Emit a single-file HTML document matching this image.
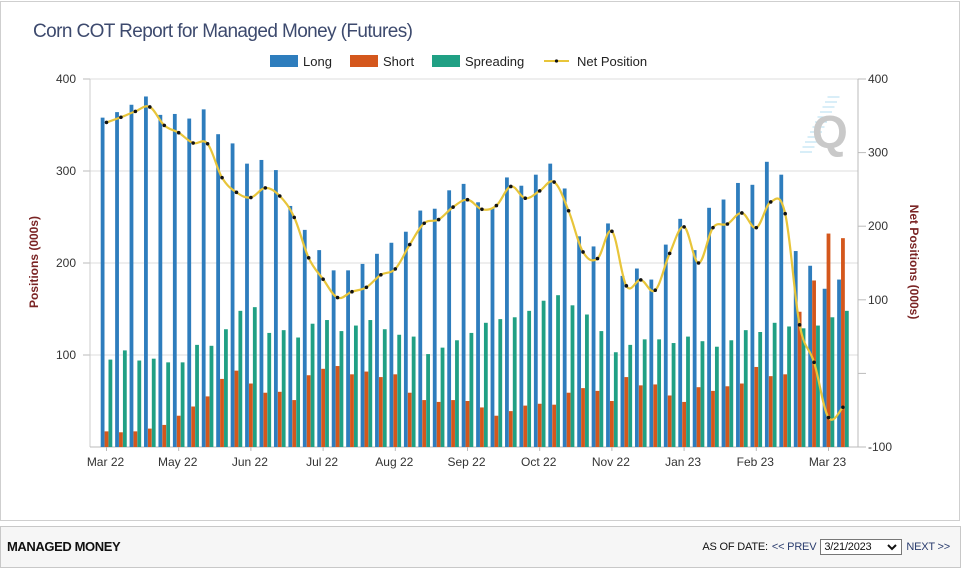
<!DOCTYPE html>
<html><head><meta charset="utf-8"><style>
body{margin:0;width:961px;height:568px;background:#fff;font-family:"Liberation Sans",sans-serif;overflow:hidden;position:relative}
#chartbox{position:absolute;left:0;top:1px;width:958px;height:518px;border:1px solid #cfcfcf;background:#fff}
#title{position:absolute;left:32px;top:19px;font-size:19px;color:#3d4a6e;letter-spacing:-0.6px}
#bottom{position:absolute;left:0;top:526px;width:959px;height:40px;border:1px solid #c8c8c8;background:#f6f6f6}
#mm{position:absolute;left:6px;top:12px;font-size:13px;font-weight:bold;letter-spacing:-0.4px;color:#111}
#asof{position:absolute;right:10px;top:12px;font-size:11px;color:#111;display:flex;align-items:center;gap:4px;letter-spacing:-0.2px}
#asof a{color:#2a3c6e;text-decoration:none}
#sel{border:1px solid #777;background:#fff;width:82px;height:16px;font-size:11px;padding-left:3px;display:flex;align-items:center;justify-content:space-between;box-sizing:border-box}
</style></head><body>
<div id="chartbox">
<div id="title">Corn COT Report for Managed Money (Futures)</div>
</div>
<svg id="svg" width="961" height="520" style="position:absolute;left:0;top:0"></svg>
<div id="bottom">
<div id="mm">MANAGED MONEY</div>
<div id="asof"><span>AS OF DATE:</span>
<a href="#">&lt;&lt; PREV</a>
<div id="sel"><span>3/21/2023</span><svg width="10" height="8" style="margin-right:4px"><path d="M1 2 L5 6 L9 2" fill="none" stroke="#111" stroke-width="2"/></svg></div>
<a href="#">NEXT &gt;&gt;</a></div>
</div>
<script>
const longVals=[358,364,372,381,361,362,357,367,340,330,308,312,301,262,236,214,192,192,199,210,222,234,257,259,279,286,266,260,293,284,296,308,281,229,218,243,186,194,182,220,248,214,260,269,287,285,310,296,213,197,172,182];
const shortVals=[17,16,17,20,24,34,44,55,74,83,69,59,60,51,78,85,88,79,82,76,79,59,51,49,51,50,43,34,39,45,47,46,59,64,61,50,76,67,68,56,49,65,61,66,69,87,77,79,147,181,232,227];
const spreadVals=[95,105,94,96,92,92,111,110,128,148,152,124,127,119,134,138,126,132,138,128,122,120,101,108,116,124,135,139,141,148,159,165,154,144,126,103,111,117,117,113,120,115,109,116,127,125,135,131,129,132,141,148];
const netVals=[341,348,356,362,337,327,313,312,266,246,239,252,241,212,157,128,103,111,117,134,142,175,204,209,226,236,223,228,254,238,248,260,221,165,156,193,119,127,113,163,199,150,198,203,218,198,233,217,66,15,-60,-46];
const xLabels=["Mar 22","May 22","Jun 22","Jul 22","Aug 22","Sep 22","Oct 22","Nov 22","Jan 23","Feb 23","Mar 23"];
const leftTicks=[100,200,300,400];
const rightTicks=[-100,0,100,200,300,400];
const rightTickLabels=["-100","","100","200","300","400"];

const svg=document.getElementById('svg');const NS='http://www.w3.org/2000/svg';
function mk(t,a,p){const e=document.createElementNS(NS,t);for(const k in a)e.setAttribute(k,a[k]);(p||svg).appendChild(e);return e;}
const X0=90,X1=858,Y0=447,YT=79;
const yL=v=>Y0-(v/400)*(Y0-YT);
const yR=v=>Y0-((v+100)/500)*(Y0-YT);
const xc=i=>106.5+i*14.44;
leftTicks.forEach(t=>{const g=mk('line',{x1:X0,x2:X1,y1:yL(t),y2:yL(t),stroke:'#dcdcdc','stroke-width':1});

mk('line',{x1:X0-7,x2:X0,y1:yL(t),y2:yL(t),stroke:'#bbb'});
const tx=mk('text',{x:X0-14,y:yL(t)+4,'text-anchor':'end','font-size':12,fill:'#333'});tx.textContent=t;
});
rightTicks.forEach((t,k)=>{mk('line',{x1:X1,x2:X1+8,y1:yR(t),y2:yR(t),stroke:'#bbb'});
const tx=mk('text',{x:X1+10,y:yR(t)+4,'font-size':12,fill:'#333'});tx.textContent=rightTickLabels[k];
});
mk('line',{x1:X0,x2:X0,y1:YT,y2:Y0,stroke:'#ccc'});
mk('line',{x1:X1,x2:X1,y1:YT,y2:Y0,stroke:'#bbb'});
mk('line',{x1:X0,x2:X1,y1:Y0,y2:Y0,stroke:'#bbb'});
const wm=mk('g',{});
for(let k=0;k<12;k++){mk('line',{x1:800+k*2.5,x2:812+k*2.5,y1:152-k*5,y2:152-k*5,stroke:'#bfe3f2','stroke-width':1.2},wm);}
const q=mk('text',{x:812,y:148,'font-size':46,'font-weight':'bold',fill:'#c9c9c9'},wm);q.textContent='Q';
const W=3.8;
longVals.forEach((v,i)=>{const r=mk('rect',{x:xc(i)-5.8,y:yL(v),width:W,height:Y0-yL(v),fill:'#2e7dbd'});
});
shortVals.forEach((v,i)=>{const r=mk('rect',{x:xc(i)-1.9,y:yL(v),width:W,height:Y0-yL(v),fill:'#d4571c'});
});
spreadVals.forEach((v,i)=>{const r=mk('rect',{x:xc(i)+2,y:yL(v),width:W,height:Y0-yL(v),fill:'#20a084'});
});
const pts=netVals.map((v,i)=>[xc(i),yR(v)]);
let d='M'+pts[0][0]+','+pts[0][1];const tn=0.18;
for(let i=1;i<pts.length;i++){const pm=pts[Math.max(i-2,0)],p0=pts[i-1],p1=pts[i],p2=pts[Math.min(i+1,pts.length-1)];
d+=` C${p0[0]+(p1[0]-pm[0])*tn},${p0[1]+(p1[1]-pm[1])*tn} ${p1[0]-(p2[0]-p0[0])*tn},${p1[1]-(p2[1]-p0[1])*tn} ${p1[0]},${p1[1]}`;}
const ln=mk('path',{d:d,fill:'none',stroke:'#e8c53a','stroke-width':2.2});

pts.forEach(p=>{const c=mk('circle',{cx:p[0],cy:p[1],r:1.8,fill:'#111'});
});
xLabels.forEach((t,k)=>{const x=xc(k*5);mk('line',{x1:x,x2:x,y1:Y0,y2:Y0+4,stroke:'#bbb'});
const tx=mk('text',{x:x-1,y:Y0+19,'text-anchor':'middle','font-size':12,fill:'#333'});tx.textContent=t;
});
const at1=mk('text',{x:0,y:0,transform:'translate(38,262) rotate(-90)','text-anchor':'middle','font-size':12,'font-weight':'bold',fill:'#7a2424'});at1.textContent='Positions (000s)';

const at2=mk('text',{x:0,y:0,transform:'translate(910,262) rotate(90)','text-anchor':'middle','font-size':12,'font-weight':'bold',fill:'#7a2424'});at2.textContent='Net Positions (000s)';

const leg=[['Long','#2e7dbd',270],['Short','#d4571c',350],['Spreading','#20a084',432]];
leg.forEach(l=>{const g=mk('g',{});
mk('rect',{x:l[2],y:55,width:28,height:12,fill:l[1]},g);const t=mk('text',{x:l[2]+33,y:66,'font-size':13,fill:'#222'},g);t.textContent=l[0];});
const g=mk('g',{});
mk('line',{x1:544,x2:569,y1:61,y2:61,stroke:'#e8c53a','stroke-width':2},g);mk('circle',{cx:556.5,cy:61,r:1.6,fill:'#111'},g);
const t=mk('text',{x:577,y:66,'font-size':13,fill:'#222'},g);t.textContent='Net Position';
</script>
</body></html>
